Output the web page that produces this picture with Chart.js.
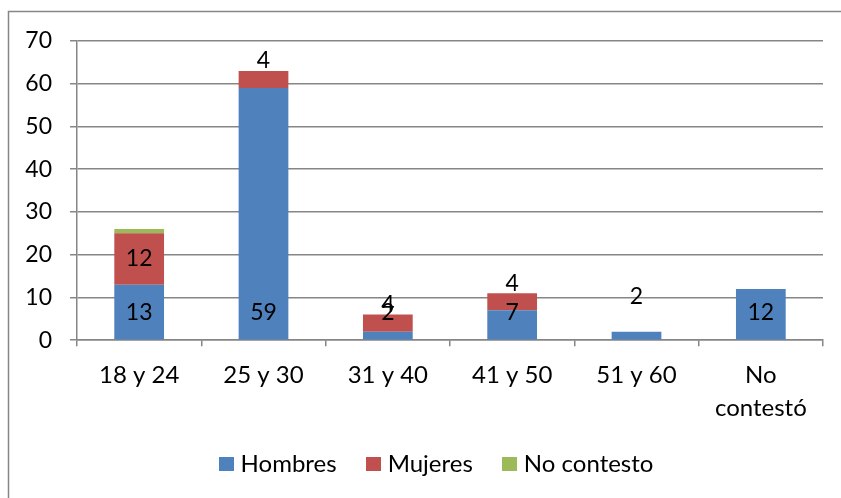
<!DOCTYPE html>
<html>
<head>
<meta charset="utf-8">
<script src="https://cdn.jsdelivr.net/npm/chart.js@4"></script>
<style>
  body { margin: 0; background: #fff; }
  #wrap { width: 841px; height: 498px; position: relative; }
</style>
</head>
<body>
<div id="wrap"><canvas id="myChart" width="841" height="498"></canvas></div>
<script>
// datos
const categories = ["18 y 24", "25 y 30", "31 y 40", "41 y 50", "51 y 60", ["No", "contestó"]];
const hombres = [13, 59, 2, 7, 2, 12];
const mujeres = [12, 4, 4, 4, 0, 0];
const noContesto = [1, 0, 0, 0, 0, 0];
const yTicks = [0, 10, 20, 30, 40, 50, 60, 70];

const FONT = "Lato, 'Liberation Sans', sans-serif";
const FSIZE = 23;
const GRID = "#868686";
const colors = ["#4F81BD", "#C0504D", "#9BBB59"];

// cuadradito de la leyenda
function legendBox(color) {
  let cv = document.createElement("canvas");
  cv.width = 15;
  cv.height = 14;
  let c = cv.getContext("2d");
  c.fillStyle = color;
  c.fillRect(0, 0, 15, 14);
  return cv;
}
const boxes = colors.map(legendBox);

// borde del cuadro
const frame = {
  id: "frame",
  beforeDraw(chart) {
    const c = chart.ctx;
    c.save();
    c.strokeStyle = GRID;
    c.lineWidth = 1.5;
    c.strokeRect(8.5, 11.5, 1000, 700);
    c.restore();
  },
};

// mover la leyenda un poco a la derecha
const legendShift = {
  id: "legendShift",
  afterLayout(chart) {
    if (chart.legend) chart.legend.left += 54;
  },
};

// etiquetas de valores
const valueLabels = {
  id: "valueLabels",
  afterDatasetsDraw(chart) {
    const c = chart.ctx;
    const y = chart.scales.y;
    c.save();
    c.font = FSIZE + "px " + FONT;
    c.fillStyle = "#000";
    c.textAlign = "center";
    c.textBaseline = "middle";
    // hombres
    chart.getDatasetMeta(0).data.forEach(function (bar, i) {
      let v = hombres[i];
      if (!v) return;
      let py = y.getPixelForValue(6.5);
      if (v < 3 && !mujeres[i]) py = bar.y - 35;
      c.fillText(String(v), bar.x, py);
    });
    // mujeres
    chart.getDatasetMeta(1).data.forEach(function (bar, i) {
      let v = mujeres[i];
      if (!v) return;
      let py = (bar.y + bar.base) / 2;
      if (Math.abs(bar.base - bar.y) < 30) py = bar.y - 10;
      c.fillText(String(v), bar.x, py);
    });
    c.restore();
  },
};

const ctx = document.getElementById("myChart");
const myChart = new Chart(ctx, {
  type: "bar",
  data: {
    labels: categories,
    datasets: [
      { label: "Hombres", data: hombres, backgroundColor: colors[0] },
      { label: "Mujeres", data: mujeres, backgroundColor: colors[1] },
      { label: "No contesto", data: noContesto, backgroundColor: colors[2] },
    ],
  },
  options: {
    responsive: false,
    animation: false,
    barPercentage: 0.4,
    categoryPercentage: 1,
    layout: {
      padding: { top: 41, right: 18, bottom: 12, left: 0 },
    },
    plugins: {
      legend: {
        position: "bottom",
        labels: {
          usePointStyle: true,
          pointStyleWidth: 5,
          boxHeight: 14,
          padding: 34,
          color: "#000",
          font: { size: 24, family: FONT },
          generateLabels: function (chart) {
            let items = Chart.defaults.plugins.legend.labels.generateLabels(chart);
            items.forEach(function (it, i) {
              it.pointStyle = boxes[i];
            });
            return items;
          },
        },
      },
      tooltip: { enabled: false },
    },
    scales: {
      x: {
        stacked: true,
        afterFit: function (scale) {
          scale.height = scale.height - 19;
        },
        border: { color: GRID, width: 1.5 },
        grid: {
          offset: true,
          drawOnChartArea: false,
          color: GRID,
          lineWidth: 1.5,
          tickLength: 6,
        },
        ticks: {
          color: "#000",
          padding: 13,
          maxRotation: 0,
          font: { size: 24, family: FONT, lineHeight: 1.35 },
        },
      },
      y: {
        stacked: true,
        min: 0,
        max: 70,
        afterFit: function (scale) {
          scale.width = 77;
        },
        afterBuildTicks: function (scale) {
          scale.ticks = yTicks.map(function (v) { return { value: v }; });
        },
        border: { color: GRID, width: 1.5 },
        grid: { color: GRID, lineWidth: 1.5, tickLength: 7 },
        ticks: {
          color: "#000",
          padding: 18,
          font: { size: FSIZE, family: FONT },
        },
      },
    },
  },
  plugins: [frame, legendShift, valueLabels],
});
</script>
</body>
</html>
